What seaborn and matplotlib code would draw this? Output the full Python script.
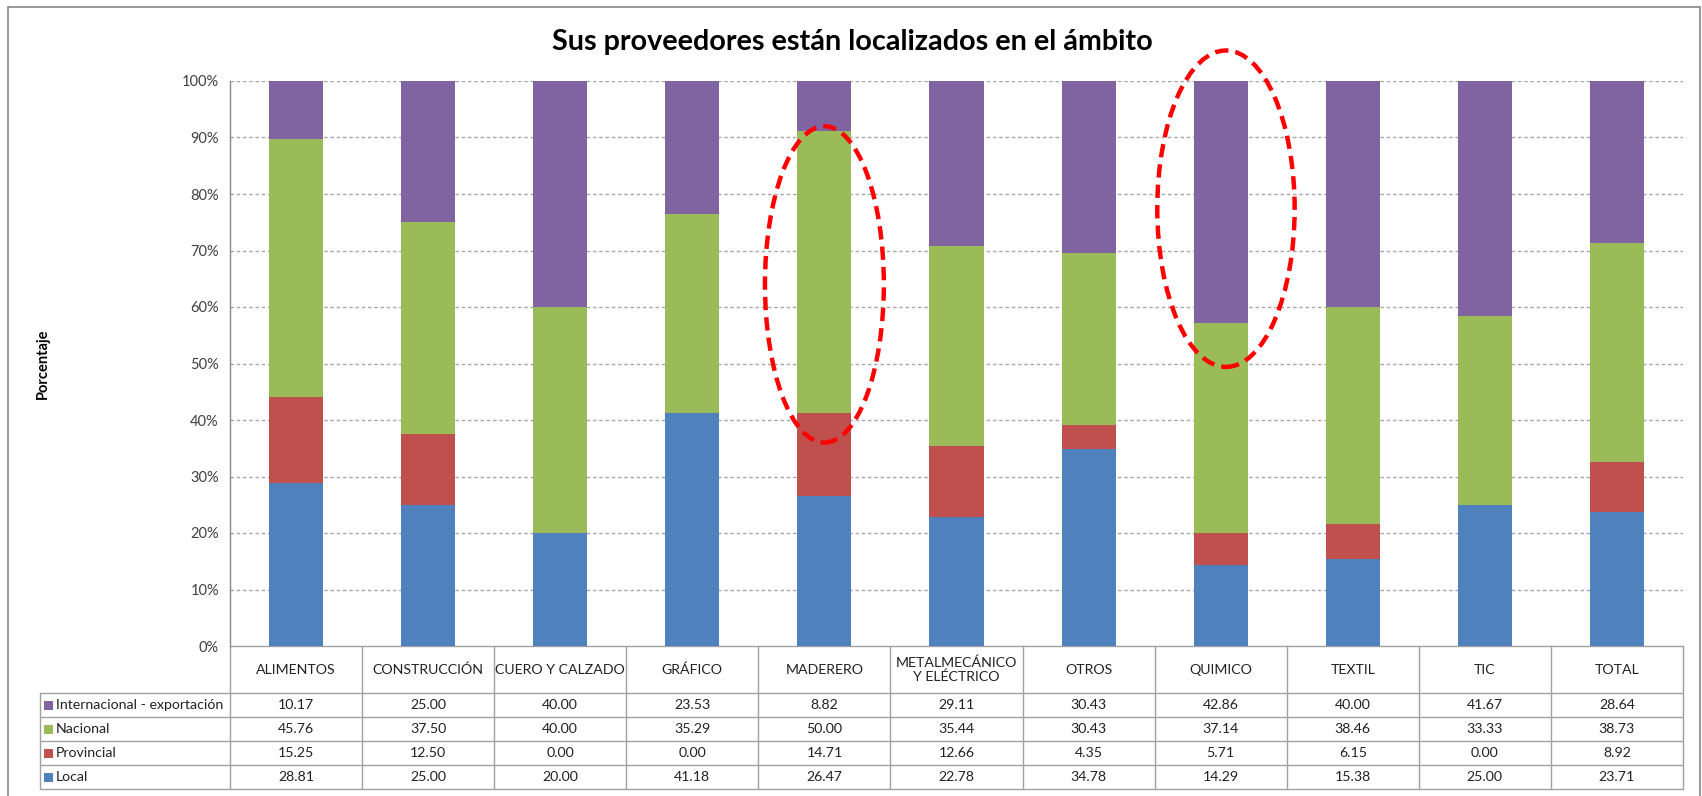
import numpy as np
import pandas as pd
import matplotlib
matplotlib.use("Agg")
import matplotlib.pyplot as plt
import seaborn as sns
from matplotlib.patches import Ellipse, Rectangle
from matplotlib.ticker import FuncFormatter

# data (percent per sector)
sectores = ["ALIMENTOS", "CONSTRUCCIÓN", "CUERO Y CALZADO", "GRÁFICO", "MADERERO",
            "METALMECÁNICO\nY ELÉCTRICO", "OTROS", "QUIMICO", "TEXTIL", "TIC", "TOTAL"]
internacional = [10.17, 25.00, 40.00, 23.53, 8.82, 29.11, 30.43, 42.86, 40.00, 41.67, 28.64]
nacional = [45.76, 37.50, 40.00, 35.29, 50.00, 35.44, 30.43, 37.14, 38.46, 33.33, 38.73]
provincial = [15.25, 12.50, 0.00, 0.00, 14.71, 12.66, 4.35, 5.71, 6.15, 0.00, 8.92]
local = [28.81, 25.00, 20.00, 41.18, 26.47, 22.78, 34.78, 14.29, 15.38, 25.00, 23.71]

series_names = ["Internacional - exportación", "Nacional", "Provincial", "Local"]
series_vals = [internacional, nacional, provincial, local]
colores = ["#8064A2", "#9BBB59", "#C0504D", "#4F81BD"]

sns.set_theme(style="white")
plt.rcParams['font.family'] = ['Lato', 'DejaVu Sans']

W, H = 1702, 796
fig = plt.figure(figsize=(W / 100, H / 100), dpi=100)
L, R, T, B = 230, 1683, 81, 646
ax = fig.add_axes([L / W, 1 - B / H, (R - L) / W, (B - T) / H])

# stacked bars: draw cumulative totals from the top layer down
df = pd.DataFrame({"sector": sectores, "Local": local, "Provincial": provincial,
                   "Nacional": nacional, "Internacional": internacional})
df["c_local"] = df["Local"]
df["c_prov"] = df["c_local"] + df["Provincial"]
df["c_nac"] = df["c_prov"] + df["Nacional"]
df["c_int"] = df["c_nac"] + df["Internacional"]

for col, c in zip(["c_int", "c_nac", "c_prov", "c_local"], colores):
    sns.barplot(data=df, x="sector", y=col, color=c, saturation=1, width=0.41,
                ax=ax, zorder=3, linewidth=0)

ax.set_xlim(-0.5, len(sectores) - 0.5)
ax.set_ylim(0, 100)
ax.set_yticks(np.arange(0, 101, 10))
ax.yaxis.set_major_formatter(FuncFormatter(lambda v, p: f"{v:.0f}%"))
ax.tick_params(axis="y", labelsize=10.5, colors="#404040", length=0, pad=8)
ax.set_xticks([])
ax.set_xlabel("")
ax.set_ylabel("")
for y in range(10, 101, 10):
    ax.axhline(y, color="#a6a6a6", linewidth=1, linestyle=(0, (2.5, 2)), zorder=1)
for s in ["top", "right", "bottom"]:
    ax.spines[s].set_visible(False)
ax.spines["left"].set_color("#868686")
ax.spines["left"].set_linewidth(1)

fig.text(852 / W, 1 - 42 / H, "Sus proveedores están localizados en el ámbito",
         ha="center", va="center", fontsize=20.7, fontweight="bold", color="black")
fig.text(43 / W, 1 - 364 / H, "Porcentaje", rotation=90, ha="center", va="center",
         fontsize=10.5, fontweight="bold", color="black")

# data table under the axis
n = len(sectores)
aw, ah = R - L, B - T
def ay(px):
    return (B - px) / ah
def axx(px):
    return (px - L) / aw

grid_c = "#a0a0a0"
row_edges = [646, 693, 717, 741, 765, 789]
kw = dict(transform=ax.transAxes, clip_on=False, color=grid_c, linewidth=1)
ax.plot([0, 1], [ay(646), ay(646)], **kw)
for ye in row_edges[1:]:
    ax.plot([axx(40), 1], [ay(ye), ay(ye)], **kw)
for i in range(n + 1):
    ax.plot([i / n, i / n], [ay(646), ay(789)], **kw)
ax.plot([axx(40), axx(40)], [ay(693), ay(789)], **kw)

tfs = 10.2
for i, s in enumerate(sectores):
    ax.text((i + 0.5) / n, ay((646 + 693) / 2), s, transform=ax.transAxes,
            ha="center", va="center", fontsize=tfs, color="#222222",
            linespacing=1.1)

for r, (name, vals, c) in enumerate(zip(series_names, series_vals, colores)):
    yc = ay((row_edges[r + 1] + row_edges[r + 2]) / 2)
    ax.add_patch(Rectangle((axx(44), yc - 4.5 / ah), 9 / aw, 9 / ah, transform=ax.transAxes,
                           facecolor=c, edgecolor="none", clip_on=False))
    ax.text(axx(56), yc, name, transform=ax.transAxes, ha="left", va="center",
            fontsize=tfs, color="#222222")
    for i, v in enumerate(vals):
        ax.text((i + 0.5) / n, yc, f"{v:.2f}", transform=ax.transAxes,
                ha="center", va="center", fontsize=tfs, color="#222222")

# red dashed highlight ellipses (MADERERO, QUIMICO)
for cx, cy, ew, eh in [(4.0, 64, 0.9, 56), (7.04, 77.4, 1.04, 56)]:
    ax.add_patch(Ellipse((cx, cy), ew, eh, fill=False, edgecolor="#FF0000",
                         linewidth=3.2, linestyle=(0, (3, 1.6)), zorder=5, clip_on=False))

# outer chart frame (bottom edge runs off the image)
fig.add_artist(Rectangle((8 / W, -10 / H), (1700 - 8) / W, (789 + 10) / H,
                         transform=fig.transFigure, fill=False,
                         edgecolor="#868686", linewidth=1.2))

fig.savefig("out.png", dpi=100)
